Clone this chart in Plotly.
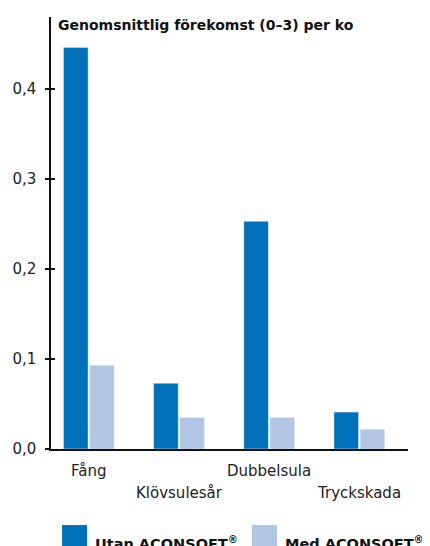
import plotly.graph_objects as go

categories = ["Fång", "Klövsulesår", "Dubbelsula", "Tryckskada"]
utan = [0.446, 0.073, 0.253, 0.041]
med = [0.093, 0.035, 0.035, 0.022]
series_names = ["Utan ACONSOFT<sup>®</sup>", "Med ACONSOFT<sup>®</sup>"]
tick_vals = [0.0, 0.1, 0.2, 0.3, 0.4]
title_text = "Genomsnittlig förekomst (0–3) per ko"

dark = "#0070B8"
light = "#B2C5E3"
font = "DejaVu Sans"

fig = go.Figure()
fig.add_trace(go.Bar(x=categories, y=utan, name=series_names[0], marker_color=dark, showlegend=False))
fig.add_trace(go.Bar(x=categories, y=med, name=series_names[1], marker_color=light, showlegend=False))

annotations = []
for i, c in enumerate(categories):
    annotations.append(dict(x=c, y=0, xref="x", yref="paper", yanchor="top", xanchor="center",
                            text=c, showarrow=False, yshift=-11 if i % 2 == 0 else -33,
                            font=dict(family=font, size=15, color="#222")))
annotations.append(dict(x=0.013, y=1.0, xref="paper", yref="paper", xanchor="left", yanchor="middle",
                        text="<b>" + title_text + "</b>", showarrow=False,
                        yshift=-8, font=dict(family=font, size=14, color="#111")))

shapes = []
leg_x = [0.031, 0.563]
colors = [dark, light]
for lx, col, name in zip(leg_x, colors, series_names):
    shapes.append(dict(type="rect", xref="paper", yref="paper", x0=lx, x1=lx + 0.070,
                       y0=-0.176, y1=-0.24, fillcolor=col, line=dict(width=0)))
    annotations.append(dict(x=lx + 0.087, y=-0.193, xref="paper", yref="paper", xanchor="left",
                            yanchor="top", text="<b>" + name + "</b>", showarrow=False,
                            font=dict(family=font, size=14.5, color="#111")))

fig.update_layout(
    width=430, height=538,
    margin=dict(l=43, r=30, t=9, b=97, autoexpand=False),
    paper_bgcolor="white", plot_bgcolor="white",
    barmode="group", bargap=0.42, bargroupgap=0.06,
    separators=", ",
    annotations=annotations, shapes=shapes,
    font=dict(family=font, size=15, color="#222"),
    xaxis=dict(range=[-0.42, 3.54], showticklabels=False, ticks="", showgrid=False,
               showline=True, linecolor="#111", linewidth=1.5, zeroline=False),
    yaxis=dict(range=[0, 0.48], tickvals=tick_vals, tickformat=".1f", ticks="outside",
               ticklen=4, tickwidth=1.5, tickcolor="#111", showgrid=False, showline=True,
               linecolor="#111", linewidth=1.5, zeroline=False, ticklabelstandoff=6,
               tickfont=dict(family=font, size=15, color="#222")),
    yaxis2=dict(range=[0, 0.48], overlaying="y", tickvals=tick_vals, ticks="inside",
                ticklen=4, tickwidth=1.5, tickcolor="#111", showticklabels=False,
                showgrid=False, showline=False, zeroline=False),
)
fig.add_trace(go.Scatter(x=[categories[0]], y=[0], yaxis="y2", mode="markers",
                         marker=dict(opacity=0), showlegend=False, hoverinfo="skip"))

fig.write_html("out.html")
